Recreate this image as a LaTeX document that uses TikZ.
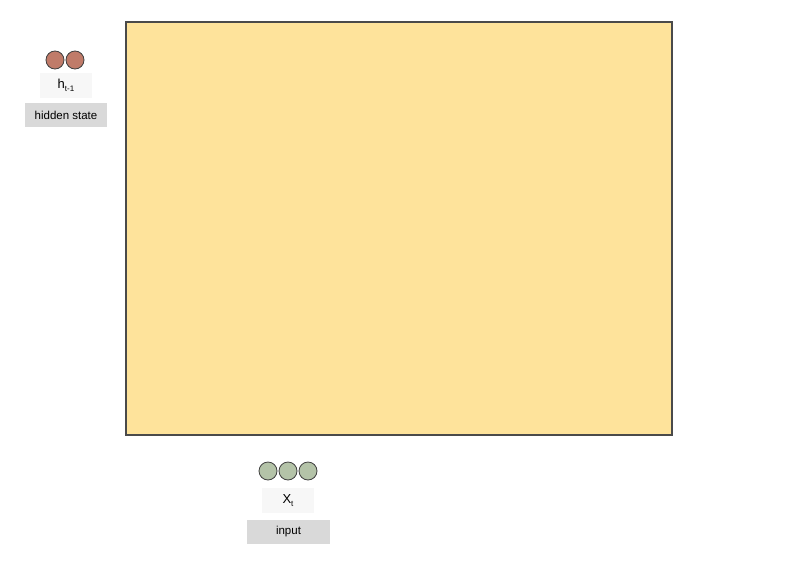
\documentclass[tikz,border=0pt]{standalone}
\usepackage{fontspec}
\setmainfont{Liberation Sans}
\definecolor{cellfill}{HTML}{FEE39B}
\definecolor{cellline}{HTML}{4A4A4A}
\definecolor{hidcol}{HTML}{C07B69}
\definecolor{incol}{HTML}{B4C3A8}
\definecolor{labgray}{HTML}{D9D9D9}
\definecolor{labwhite}{HTML}{F7F7F7}
\tikzset{
  cell/.style={draw=cellline, line width=1.2pt, fill=cellfill},
  hid/.style={circle, draw=black!75, line width=0.8pt, fill=hidcol, minimum size=18pt, inner sep=0pt},
  inp/.style={circle, draw=black!75, line width=0.8pt, fill=incol, minimum size=18pt, inner sep=0pt},
  symbox/.style={fill=labwhite, minimum width=52pt, minimum height=25pt, inner sep=0pt, font=\fontsize{13}{15}\selectfont},
  tagbox/.style={fill=labgray, minimum height=24pt, inner sep=0pt, font=\fontsize{11.5}{13}\selectfont}
}
\begin{document}
\begin{tikzpicture}[x=1pt,y=-1pt]
\useasboundingbox (0,0) rectangle (800,565);
\fill[white] (0,0) rectangle (800,565);
\draw[cell] (126,22) rectangle (672,435);
\node[hid] (h1) at (55,60) {};
\node[hid] (h2) at (75,60) {};
\node[symbox] (hlab) at (66,85.5) {h\raisebox{-0.5ex}{\fontsize{8}{9}\selectfont t-1}};
\node[tagbox, minimum width=82pt] (htag) at (66,115) {hidden state};
\node[inp] (x1) at (268,471) {};
\node[inp] (x2) at (288,471) {};
\node[inp] (x3) at (308,471) {};
\node[symbox] (xlab) at (288,500.5) {X\raisebox{-0.5ex}{\fontsize{8}{9}\selectfont t}};
\node[tagbox, minimum width=83pt] (xtag) at (288.5,532) {input};
\end{tikzpicture}
\end{document}
